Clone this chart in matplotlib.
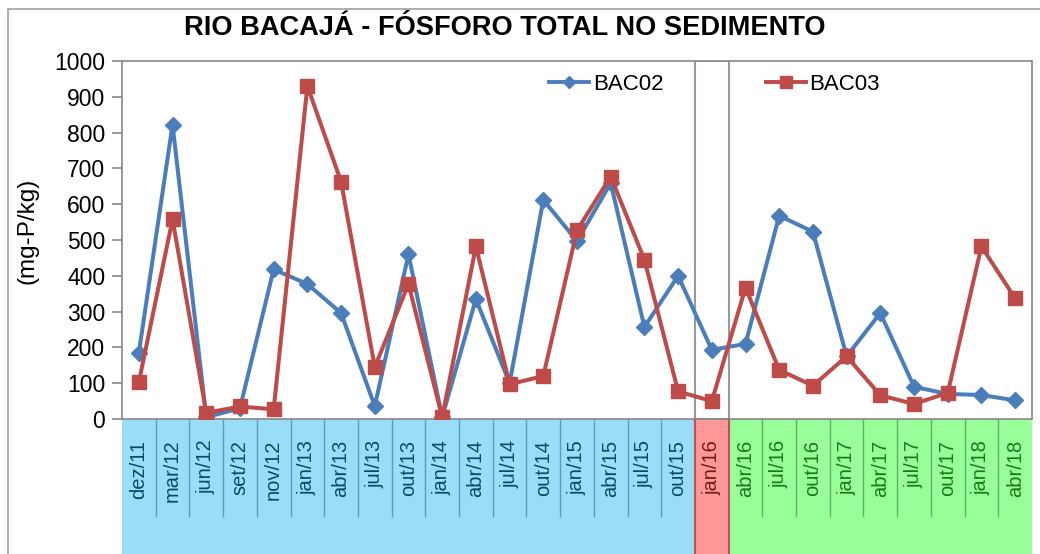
import numpy as np
import matplotlib.pyplot as plt
from matplotlib.patches import Rectangle
from matplotlib.lines import Line2D

plt.rcParams['font.family'] = ['Liberation Sans', 'DejaVu Sans']

meses = ["dez/11", "mar/12", "jun/12", "set/12", "nov/12", "jan/13", "abr/13",
         "jul/13", "out/13", "jan/14", "abr/14", "jul/14", "out/14", "jan/15",
         "abr/15", "jul/15", "out/15", "jan/16", "abr/16", "jul/16", "out/16",
         "jan/17", "abr/17", "jul/17", "out/17", "jan/18", "abr/18"]

bac02 = [185, 822, 5, 30, 418, 377, 296, 36, 460, 5, 335, 100, 612, 497,
         659, 257, 400, 193, 210, 568, 523, 175, 296, 90, 70, 67, 52]
bac03 = [103, 558, 17, 35, 27, 930, 663, 145, 377, 5, 482, 97, 120, 527,
         677, 445, 77, 50, 367, 137, 93, 175, 66, 42, 73, 482, 337]

# fases do monitoramento (qtd de campanhas em cada uma)
fases = [("pre", 17), ("jan16", 1), ("pos", 9)]

cores_fase = {
    "pre":   ("#99DDF9", "#0C4A63", "#5A9DB8"),
    "jan16": ("#FF9999", "#7A1616", "#C05050"),
    "pos":   ("#99FF99", "#177A17", "#60B060"),
}

x = np.arange(len(meses))

fig = plt.figure(figsize=(10.4, 5.54), dpi=100)
ax = fig.add_axes([122 / 1040, 1 - 419 / 554, 910 / 1040, 358 / 554])

# moldura externa do grafico
fig.patches.append(Rectangle((8 / 1040, -0.1), 1.2, 1.1 - 9 / 554,
                             transform=fig.transFigure, fill=False,
                             edgecolor="#A0A0A0", lw=1.2, zorder=0))

ax.plot(x, bac02, color="#4A7EBB", lw=2.9, marker="D", ms=8.5, zorder=3)
ax.plot(x, bac03, color="#BE4B48", lw=2.9, marker="s", ms=9.5, zorder=4)

ax.set_xlim(-0.5, len(meses) - 0.5)
ax.set_ylim(0, 1000)
ax.set_yticks(np.arange(0, 1001, 100))
ax.tick_params(axis="y", labelsize=16.5, length=7, color="#888888", width=1.2, pad=5)
ax.set_xticks([])
for s in ax.spines.values():
    s.set_color("#888888")
    s.set_linewidth(1.2)

ax.set_ylabel("(mg-P/kg)", fontsize=17.5)
ax.yaxis.set_label_coords(-0.092, 0.525)

# caixa destacando jan/16
ax.add_patch(Rectangle((16.5, 0), 1, 1, transform=ax.get_xaxis_transform(),
                       fill=False, edgecolor="#999999", lw=1.5, zorder=2))

# faixa colorida com os rotulos de mes
trans = ax.get_xaxis_transform()
inicio = 0
for fase, n in fases:
    fundo, texto, linha = cores_fase[fase]
    ax.add_patch(Rectangle((inicio - 0.5, -0.5), n, 0.5, transform=trans,
                           facecolor=fundo, edgecolor="none", clip_on=False))
    for i in range(inicio, inicio + n):
        ax.text(i, -0.058, meses[i], rotation=90, ha="center", va="top",
                color=texto, fontsize=14.5, transform=trans, clip_on=False)
        if i > inicio:
            ax.plot([i - 0.5, i - 0.5], [0, -0.271], color=linha, lw=1,
                    transform=trans, clip_on=False)
    inicio += n

for b in [16.5, 17.5]:
    ax.plot([b, b], [0, -0.5], color="#C05050", lw=1.5, transform=trans, clip_on=False)

fig.text(0.485, 0.949, "RIO BACAJÁ - FÓSFORO TOTAL NO SEDIMENTO", ha="center",
         va="center", fontsize=19.6, fontweight="bold")

h1 = Line2D([], [], color="#4A7EBB", lw=2.8, marker="D", ms=6)
h2 = Line2D([], [], color="#BE4B48", lw=2.8, marker="s", ms=8)
ax.legend([h1, h2], ["BAC02", "BAC03"], ncol=2, frameon=False, fontsize=16,
          loc="center left", bbox_to_anchor=(0.46, 0.935), handlelength=1.8,
          handletextpad=0.15, columnspacing=4.6, borderaxespad=0)

fig.savefig("out.png", dpi=100)
